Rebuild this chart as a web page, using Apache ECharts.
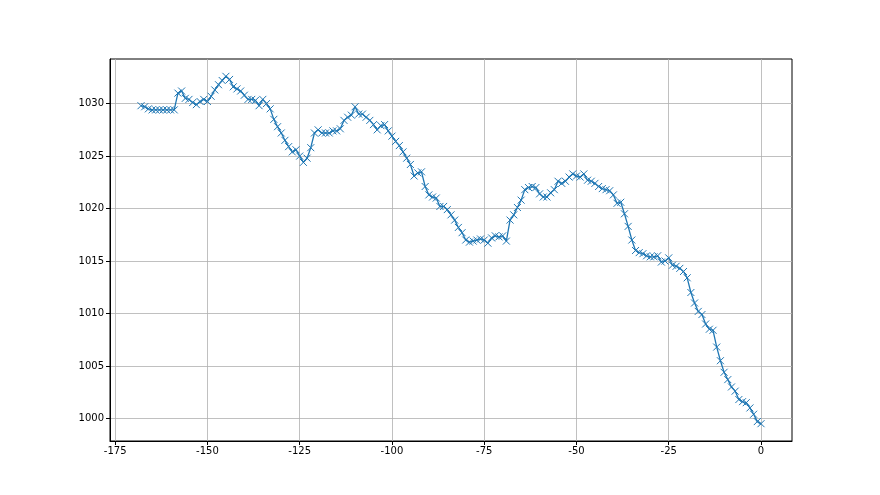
<!DOCTYPE html>
<html>
<head>
<meta charset="utf-8">
<script src="https://cdn.jsdelivr.net/npm/echarts@6/dist/echarts.min.js"></script>
<style>
  html, body { margin: 0; padding: 0; background: #fff; }
  #chart { width: 880px; height: 495px; }
</style>
</head>
<body>
<div id="chart"></div>
<script>
// hours relative to now
const hours = [
  -168, -167, -166, -165, -164, -163, -162, -161, -160, -159, -158, -157, -156, -155, -154, -153, -152, -151, -150, -149,
  -148, -147, -146, -145, -144, -143, -142, -141, -140, -139, -138, -137, -136, -135, -134, -133, -132, -131, -130, -129,
  -128, -127, -126, -125, -124, -123, -122, -121, -120, -119, -118, -117, -116, -115, -114, -113, -112, -111, -110, -109,
  -108, -107, -106, -105, -104, -103, -102, -101, -100, -99, -98, -97, -96, -95, -94, -93, -92, -91, -90, -89,
  -88, -87, -86, -85, -84, -83, -82, -81, -80, -79, -78, -77, -76, -75, -74, -73, -72, -71, -70, -69,
  -68, -67, -66, -65, -64, -63, -62, -61, -60, -59, -58, -57, -56, -55, -54, -53, -52, -51, -50, -49,
  -48, -47, -46, -45, -44, -43, -42, -41, -40, -39, -38, -37, -36, -35, -34, -33, -32, -31, -30, -29,
  -28, -27, -26, -25, -24, -23, -22, -21, -20, -19, -18, -17, -16, -15, -14, -13, -12, -11, -10, -9,
  -8, -7, -6, -5, -4, -3, -2, -1, 0
];

// pressure readings (hPa)
const pressure = [
  1029.8, 1029.7, 1029.5, 1029.4, 1029.4, 1029.4, 1029.4, 1029.4, 1029.4, 1029.4, 1031.0, 1031.2, 1030.5, 1030.4, 1030.1, 1029.9, 1030.2, 1030.4, 1030.2, 1030.7,
  1031.3, 1031.8, 1032.2, 1032.6, 1032.3, 1031.6, 1031.4, 1031.2, 1030.8, 1030.4, 1030.4, 1030.3, 1029.8, 1030.4, 1030.0, 1029.5, 1028.5, 1027.8, 1027.2, 1026.5,
  1025.9, 1025.4, 1025.6, 1025.0, 1024.4, 1024.8, 1025.8, 1027.2, 1027.5, 1027.2, 1027.2, 1027.2, 1027.4, 1027.4, 1027.6, 1028.4, 1028.7, 1028.9, 1029.7, 1029.0,
  1029.0, 1028.7, 1028.4, 1028.0, 1027.5, 1027.9, 1028.0, 1027.4, 1026.9, 1026.4, 1026.0, 1025.4, 1024.8, 1024.2, 1023.1, 1023.4, 1023.5, 1022.1, 1021.3, 1021.1,
  1021.0, 1020.2, 1020.2, 1019.9, 1019.4, 1018.9, 1018.2, 1017.7, 1017.0, 1016.8, 1016.9, 1017.0, 1017.1, 1017.0, 1016.7, 1017.2, 1017.4, 1017.3, 1017.4, 1016.9,
  1018.9, 1019.4, 1020.1, 1020.8, 1021.8, 1022.0, 1022.1, 1022.0, 1021.4, 1021.1, 1021.1, 1021.5, 1021.8, 1022.6, 1022.4, 1022.6, 1023.0, 1023.3, 1023.1, 1023.0,
  1023.3, 1022.7, 1022.6, 1022.4, 1022.1, 1021.9, 1021.8, 1021.7, 1021.3, 1020.5, 1020.6, 1019.5, 1018.3, 1017.0, 1016.0, 1015.8, 1015.7, 1015.5, 1015.4, 1015.4,
  1015.5, 1014.9, 1015.0, 1015.3, 1014.6, 1014.5, 1014.3, 1014.0, 1013.4, 1012.0, 1011.0, 1010.2, 1009.9, 1009.0, 1008.5, 1008.4, 1006.8, 1005.5, 1004.4, 1003.7,
  1003.0, 1002.6, 1001.8, 1001.6, 1001.5, 1001.0, 1000.4, 999.7, 999.5
];

const xTicks = [-175, -150, -125, -100, -75, -50, -25, 0];
const yTicks = [1000, 1005, 1010, 1015, 1020, 1025, 1030];

const chart = echarts.init(document.getElementById('chart'));

const axisCommon = {
  type: 'value',
  axisLine: { show: true, onZero: false, lineStyle: { color: '#000', width: 1 } },
  axisTick: { show: true, length: 4, lineStyle: { color: '#000', width: 1 } },
  axisLabel: { color: '#000', fontSize: 10, fontFamily: 'DejaVu Sans', formatter: v => String(v) },
  splitLine: { show: true, lineStyle: { color: '#b0b0b0', width: 0.8 } }
};

chart.setOption({
  animation: false,
  backgroundColor: '#fff',
  grid: {
    left: 110, right: 88, top: 59, bottom: 54,
    show: true, borderColor: '#000', borderWidth: 1, backgroundColor: 'transparent'
  },
  xAxis: {
    ...axisCommon,
    min: -176.4,
    max: 8.4,
    axisTick: { ...axisCommon.axisTick, customValues: xTicks },
    axisLabel: { ...axisCommon.axisLabel, margin: 5, customValues: xTicks }
  },
  yAxis: {
    ...axisCommon,
    min: 997.85,
    max: 1034.25,
    axisTick: { ...axisCommon.axisTick, customValues: yTicks },
    axisLabel: { ...axisCommon.axisLabel, margin: 6, customValues: yTicks }
  },
  series: [{
    type: 'line',
    data: hours.map((h, i) => [h, pressure[i]]),
    showAllSymbol: true,
    symbol: 'path://M0,0L10,10M10,0L0,10',
    symbolSize: 7,
    lineStyle: { color: '#1f77b4', width: 1.3 },
    itemStyle: { color: 'rgba(0,0,0,0)', borderColor: '#1f77b4', borderWidth: 1 },
    emphasis: { disabled: true }
  }]
});
</script>
</body>
</html>
